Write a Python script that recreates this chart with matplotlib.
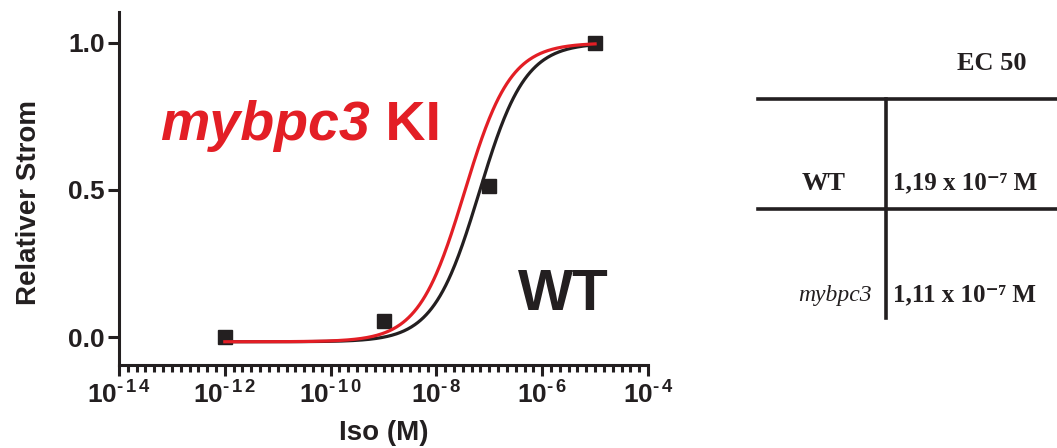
import numpy as np
import matplotlib
matplotlib.use('Agg')
import matplotlib.pyplot as plt
from matplotlib.lines import Line2D
from matplotlib.ticker import FixedLocator, NullFormatter

plt.rcParams['font.family'] = ['Liberation Sans', 'DejaVu Sans']
plt.rcParams['mathtext.fontset'] = 'custom'
plt.rcParams['mathtext.rm'] = 'Liberation Sans:bold'
plt.rcParams['mathtext.bf'] = 'Liberation Sans:bold'
plt.rcParams['mathtext.it'] = 'Liberation Sans:bold:italic'

# Messpunkte (Iso-Konzentration in M, relativer Strom)
conc = [1e-12, 1e-9, 1e-7, 1e-5]
strom = [0.0, 0.054, 0.515, 1.0]

# Fitkurven (Hill)
bottom = -0.016
top = 1.0
log_ec50_wt = -7.19
log_ec50_ki = -7.47
hill = 1.0

# Tabelle
tab_rows = ['WT', 'mybpc3']
tab_ec50 = ['1,19 x 10⁻⁷ M', '1,11 x 10⁻⁷ M']

black = '#231f20'
red = '#e31e25'


def hill_fit(x, logec50):
    return bottom + (top - bottom) / (1 + 10 ** ((logec50 - np.log10(x)) * hill))


fig = plt.figure(figsize=(10.57, 4.48), dpi=100)
ax = fig.add_axes([119 / 1057, 1 - 365 / 448, (648 - 119) / 1057, (365 - 12) / 448])

xs = np.logspace(-12, -5, 400)
ax.plot(xs, hill_fit(xs, log_ec50_wt), color=black, lw=2.3, zorder=2)
ax.plot(xs, hill_fit(xs, log_ec50_ki), color=red, lw=2.3, zorder=3)
ax.plot(conc, strom, 's', color=black, ms=10.5, zorder=1)

ax.set_xscale('log')
ax.set_xlim(1e-14, 1e-4)
ax.set_ylim(-0.095, 1.105)

exps = list(range(-14, -3, 2))
ax.xaxis.set_major_locator(FixedLocator([10.0 ** e for e in exps]))
ax.set_xticklabels([r'$10^{\text{-}\,%s}$' % r'\,'.join(str(-e)) for e in exps])
minor = [10 ** (-14 + k / 6) for k in range(61) if k % 12 != 0]
ax.xaxis.set_minor_locator(FixedLocator(minor))
ax.xaxis.set_minor_formatter(NullFormatter())

ax.set_yticks([0.0, 0.5, 1.0])
ax.set_yticklabels(['0.0', '0.5', '1.0'])

for side in ['top', 'right']:
    ax.spines[side].set_visible(False)
for side in ['left', 'bottom']:
    ax.spines[side].set_linewidth(2.2)
    ax.spines[side].set_color(black)

ax.tick_params(axis='both', which='major', direction='out', length=8, width=2.2,
               color=black, labelsize=19, labelcolor=black)
ax.tick_params(axis='y', which='major', pad=2)
ax.tick_params(axis='x', which='major', pad=4)
ax.tick_params(axis='x', which='minor', direction='out', length=5, width=2.2, color=black)
for lab in ax.get_yticklabels():
    lab.set_fontweight('bold')

ax.set_xlabel('Iso (M)', fontsize=20, fontweight='bold', color=black)
ax.xaxis.set_label_coords((384 - 119) / 529, -(433 - 365) / 353)
ax.xaxis.label.set_va('center')
ax.set_ylabel('Relativer Strom', fontsize=20, fontweight='bold', color=black)
ax.yaxis.set_label_coords((29 - 119) / 529, (365 - 202) / 353)
ax.yaxis.label.set_va('center')

# Beschriftungen im Plot
t1 = fig.text(160 / 1057, 1 - 140 / 448, 'mybpc3', color=red, fontsize=40,
              fontweight='bold', style='italic', va='baseline')
ax.annotate(' KI', xy=(1, 0), xycoords=t1, color=red, fontsize=40,
            fontweight='bold', va='bottom', ha='left', annotation_clip=False)
fig.text(518 / 1057, 1 - 310 / 448, 'WT', color=black, fontsize=42,
         fontweight='bold', va='baseline')

# EC50-Tabelle
serif = ['Liberation Serif', 'DejaVu Serif']
fig.text(992 / 1057, 1 - 63 / 448, 'EC 50', family=serif, fontsize=19,
         fontweight='bold', ha='center', va='center', color=black)
for yy in [99, 209]:
    fig.add_artist(Line2D([758 / 1057, 1.0], [1 - yy / 448, 1 - yy / 448],
                          color=black, lw=2.6))
fig.add_artist(Line2D([886 / 1057, 886 / 1057], [1 - 99 / 448, 1 - 318 / 448],
                      color=black, lw=2.6))
row_y = [183, 295]
row_right = [846, 872]
for name, val, yy, xr in zip(tab_rows, tab_ec50, row_y, row_right):
    if name == 'WT':
        fig.text(xr / 1057, 1 - yy / 448, name, family=serif, fontsize=19,
                 fontweight='bold', ha='right', va='center', color=black)
    else:
        fig.text(xr / 1057, 1 - yy / 448, name, family=serif, fontsize=17,
                 style='italic', ha='right', va='center', color=black)
    fig.text(893 / 1057, 1 - yy / 448, val, family=serif, fontsize=18,
             fontweight='bold', ha='left', va='center', color=black)

fig.savefig('out.png', dpi=100)
